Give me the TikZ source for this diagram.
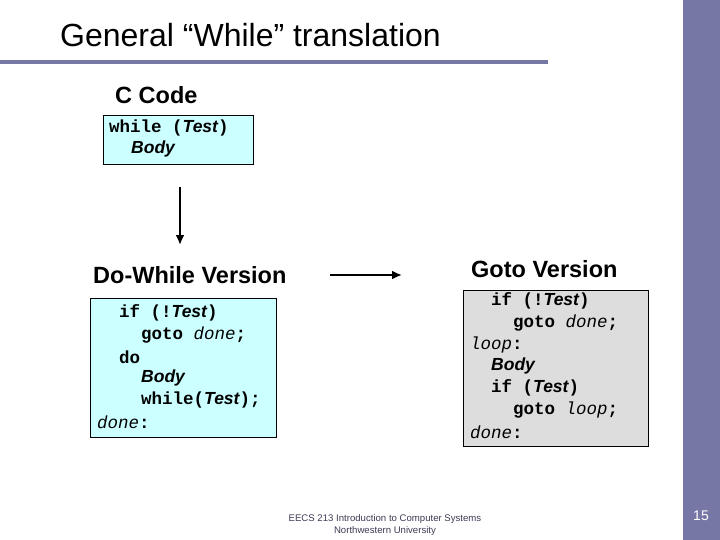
\documentclass[tikz,border=0pt]{standalone}
\usepackage{fontspec}
\usetikzlibrary{arrows.meta}
\setmainfont{Liberation Sans}
\newfontfamily\cmono{Liberation Mono}
\newcommand\kw[1]{{\cmono\bfseries #1}}
\newcommand\lb[1]{{\cmono\itshape #1}}
\newcommand\ib[1]{{\bfseries\itshape #1}}
\definecolor{side}{HTML}{7777A6}
\definecolor{cy}{HTML}{CCFFFF}
\definecolor{gr}{HTML}{DDDDDD}
\begin{document}
\begin{tikzpicture}[x=1pt,y=-1pt,
 code/.style={anchor=west,inner sep=0pt,font=\fontsize{17.5}{17.5}\selectfont},
 hd/.style={anchor=west,inner sep=0pt,font=\fontsize{23.5}{23.5}\selectfont\bfseries},
 box/.style={draw=black,line width=0.8pt},
 arr/.style={-{Latex[length=10pt,width=9pt]},line width=2pt}]
\useasboundingbox (0,0) rectangle (720,540);
\fill[side] (683,0) rectangle (720,540);
\fill[side] (0,60) rectangle (548,64);
\node[anchor=west,inner sep=0pt,font=\fontsize{32}{32}\selectfont] (title) at (60,35) {General “While” translation};
\node[hd] (cc) at (115,95) {C Code};
\draw[box,fill=cy] (103,115) rectangle (253,164);
\node[code] (w1) at (109,128) {\kw{while (}\ib{Test}\kw{)}};
\node[code] (w2) at (131,149) {\ib{Body}};
\coordinate (a1) at (180,187); \coordinate (a2) at (180,245);
\draw[arr] (a1) -- (a2);
\node[hd] (dw) at (93,275) {Do-While Version};
\coordinate (b1) at (330,275); \coordinate (b2) at (402,275);
\draw[arr] (b1) -- (b2);
\node[hd] (gv) at (471,269) {Goto Version};
\draw[box,fill=cy] (90,298) rectangle (276,437);
\node[code] (d1) at (119,313) {\kw{if (!}\ib{Test}\kw{)}};
\node[code] (d2) at (141,335) {\kw{goto }\lb{done}\kw{;}};
\node[code] (d3) at (119,357) {\kw{do}};
\node[code] (d4) at (141,378) {\ib{Body}};
\node[code] (d5) at (141,400) {\kw{while(}\ib{Test}\kw{);}};
\node[code] (d6) at (97,422) {\lb{done}\kw{:}};
\draw[box,fill=gr] (463,290) rectangle (648,446);
\node[code] (g1) at (491,301) {\kw{if (!}\ib{Test}\kw{)}};
\node[code] (g2) at (513,323) {\kw{goto }\lb{done}\kw{;}};
\node[code] (g3) at (470,345) {\lb{loop}\kw{:}};
\node[code] (g4) at (491,366) {\ib{Body}};
\node[code] (g5) at (491,388) {\kw{if (}\ib{Test}\kw{)}};
\node[code] (g6) at (513,410) {\kw{goto }\lb{loop}\kw{;}};
\node[code] (g7) at (470,432) {\lb{done}\kw{:}};
\node[inner sep=0pt,font=\fontsize{9.6}{9.6}\selectfont,text=side!50!black] (f1) at (385,519) {EECS 213 Introduction to Computer Systems};
\node[inner sep=0pt,font=\fontsize{9.6}{9.6}\selectfont,text=side!50!black] (f2) at (385,531) {Northwestern University};
\node[inner sep=0pt,font=\fontsize{14}{14}\selectfont,text=white] (pg) at (701,516) {15};
\end{tikzpicture}
\end{document}
